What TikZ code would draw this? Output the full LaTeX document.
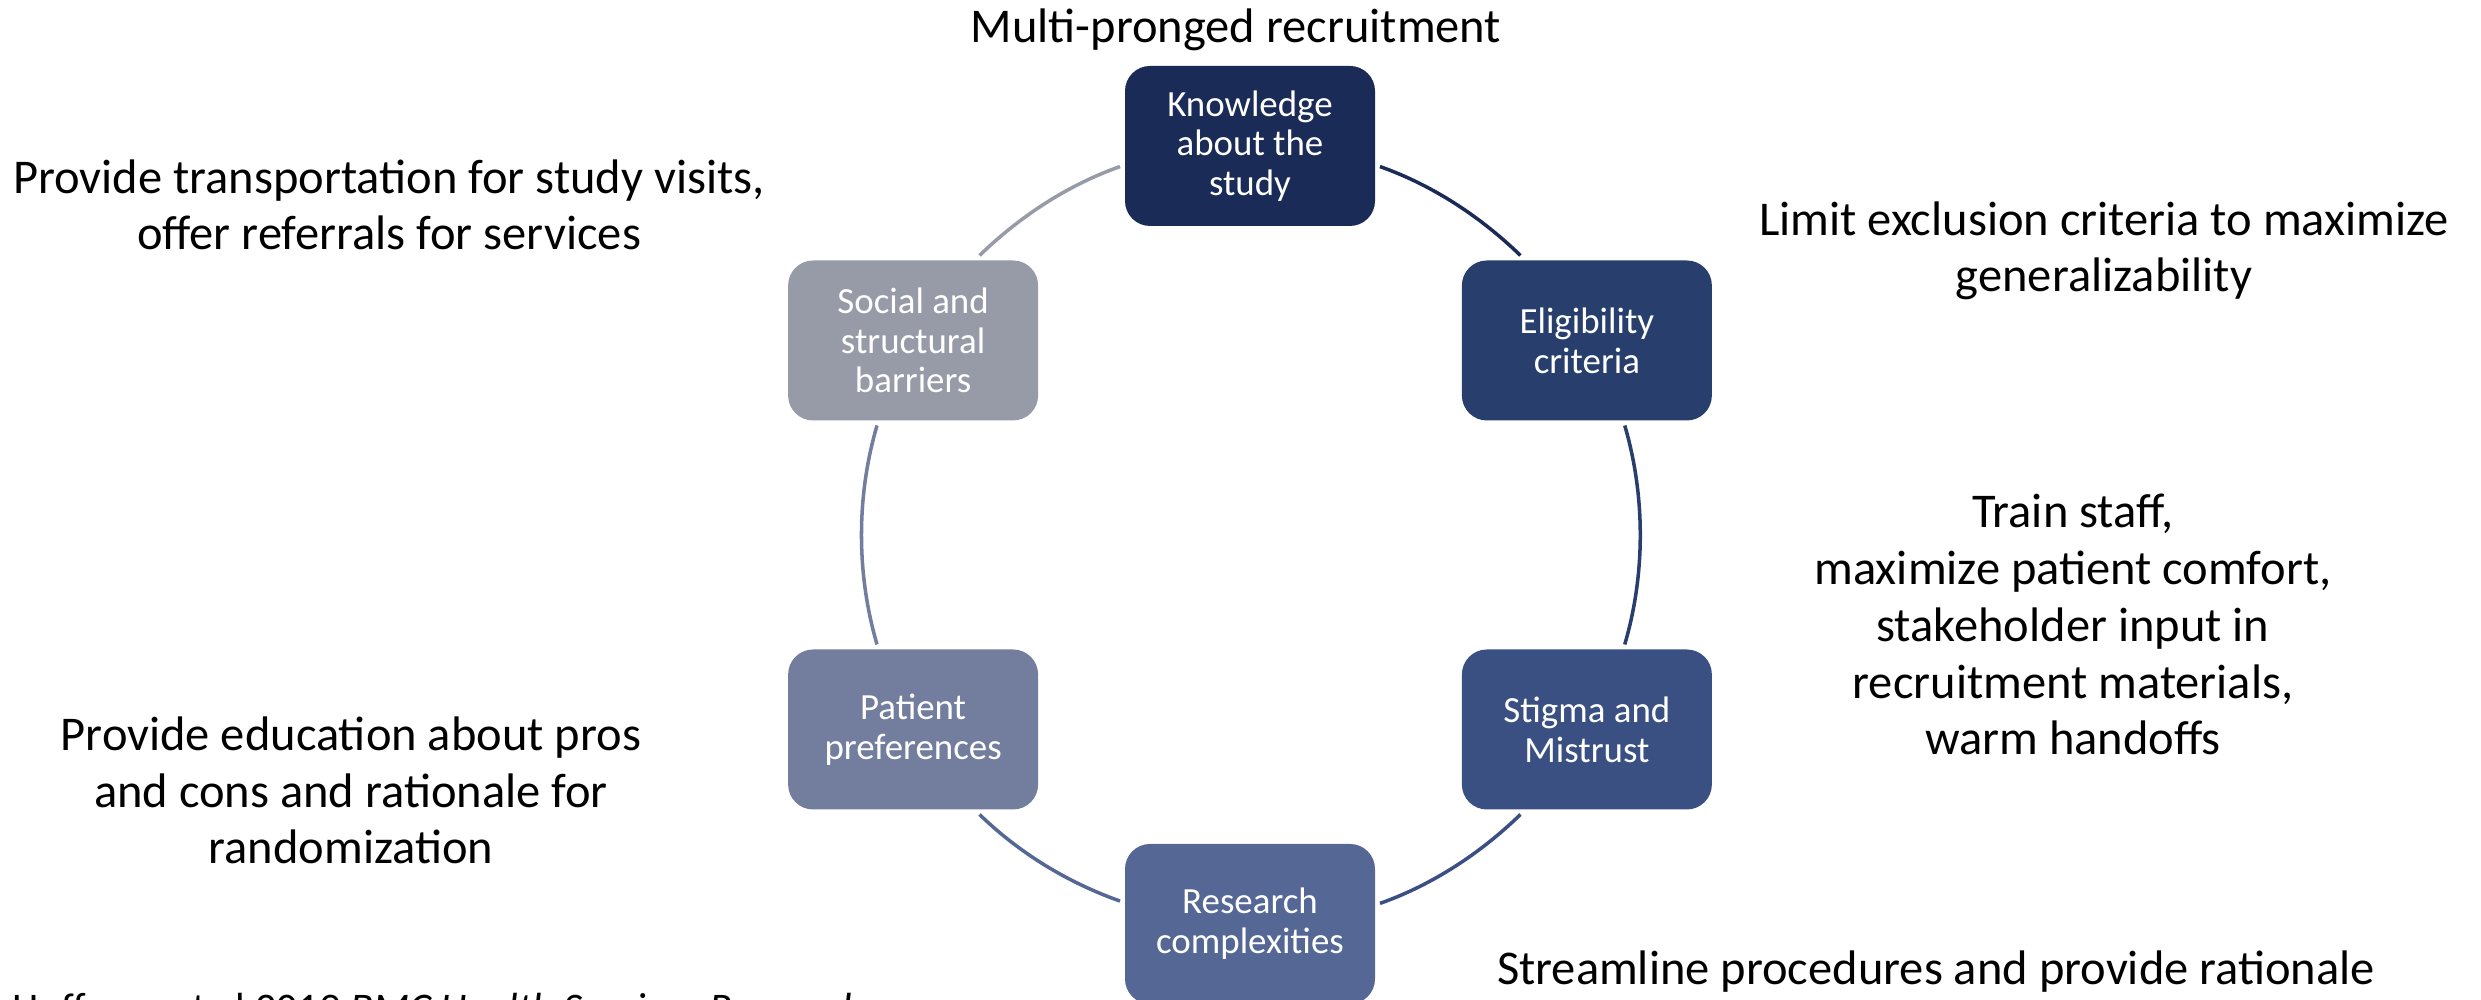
\documentclass[tikz,border=0pt]{standalone}
\usepackage{fontspec}
\setmainfont{Carlito}
\usepackage{tikz}
\usetikzlibrary{calc}
\definecolor{knowc}{HTML}{1A2B57}
\definecolor{eligc}{HTML}{283F6E}
\definecolor{stigc}{HTML}{3A5083}
\definecolor{resc}{HTML}{546795}
\definecolor{patc}{HTML}{737E9F}
\definecolor{socc}{HTML}{979AA7}
\tikzstyle{box} = [rectangle, rounded corners=0.25cm,
minimum width=2.5cm,
minimum height=1.6cm,
outer sep=0.05cm,
text centered, align=center,
text=white,
font=\fontsize{10.5}{11.3}\selectfont]
\tikzstyle{note} = [align=center, inner sep=0pt,
font=\fontsize{13.8}{16.2}\selectfont]
\tikzstyle{ring} = [line width=1pt, looseness=.86]

\begin{document}
\begin{tikzpicture}
\useasboundingbox (0,0) rectangle (24.81,10);

\coordinate (ctr) at (12.5,4.65);

\node (know) [box, fill=knowc] at ($(ctr)+(90:3.89)$) {Knowledge\\about the\\study};
\node (elig) [box, fill=eligc] at ($(ctr)+(30:3.89)$) {Eligibility\\criteria};
\node (stig) [box, fill=stigc] at ($(ctr)+(-30:3.89)$) {Stigma and\\Mistrust};
\node (res) [box, fill=resc] at ($(ctr)+(-90:3.89)$) {Research\\complexities};
\node (pat) [box, fill=patc] at ($(ctr)+(210:3.89)$) {Patient\\preferences};
\node (soc) [box, fill=socc] at ($(ctr)+(150:3.89)$) {Social and\\structural\\barriers};

\draw [ring, knowc] (know.-9.8) to[out=-19.5, in=135.9] (elig.128);
\draw [ring, eligc] (elig.-66.8) to[out=-73.6, in=73.6] (stig.66.8);
\draw [ring, stigc] (stig.-128) to[out=-135.9, in=19.5] (res.9.8);
\draw [ring, resc] (res.170.2) to[out=160.5, in=-44.1] (pat.-52);
\draw [ring, patc] (pat.113.2) to[out=106.4, in=-106.4] (soc.-113.2);
\draw [ring, socc] (soc.52) to[out=44.1, in=199.5] (know.189.8);

% notes, anchored at the last line
\node (multi) [note, anchor=base] at (12.36,9.57) {Multi-pronged recruitment};
\node (transp) [note, anchor=base] at (3.89,7.50) {Provide transportation for study visits,\\offer referrals for services};
\node (limit) [note, anchor=base] at (21.04,7.08) {Limit exclusion criteria to maximize\\generalizability};
\node (train) [note, anchor=base] at (20.73,2.45) {Train staff,\\maximize patient comfort,\\stakeholder input in\\recruitment materials,\\warm handoffs};
\node (educ) [note, anchor=base] at (3.51,1.36) {Provide education about pros\\and cons and rationale for\\randomization};
\node (stream) [note, anchor=base] at (19.36,0.15) {Streamline procedures and provide rationale};
\node (cite) [note, anchor=base west, font=\fontsize{12}{14}\selectfont] at (0.12,-0.23) {Hoffman et al 2019 \textit{BMC Health Services Research}};

\end{tikzpicture}
\end{document}
